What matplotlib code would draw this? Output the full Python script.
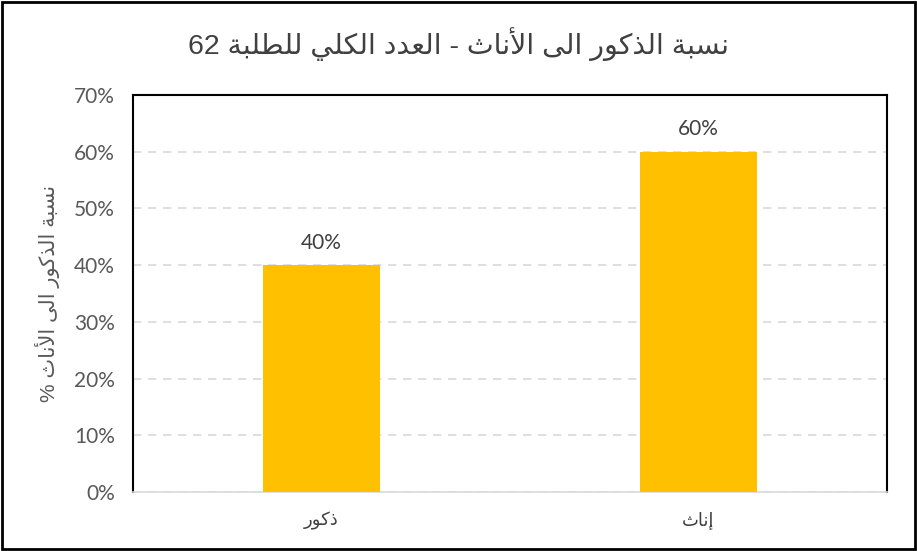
import matplotlib.pyplot as plt
import numpy as np

categories = ["ذكور", "إناث"]
values = [40, 60]
title_text = "نسبة الذكور الى الأناث - العدد الكلي للطلبة 62"
ylabel_text = "نسبة الذكور الى الأناث %"
yticks = [0, 10, 20, 30, 40, 50, 60, 70]

# matplotlib has no Arabic shaping, so pick the presentation forms by hand
# letter: (isolated, final, initial, medial) ; two forms = joins only to the right
FORMS = {
    "ا": (0xFE8D, 0xFE8E), "أ": (0xFE83, 0xFE84), "إ": (0xFE87, 0xFE88),
    "آ": (0xFE81, 0xFE82),
    "ب": (0xFE8F, 0xFE90, 0xFE91, 0xFE92), "ة": (0xFE93, 0xFE94),
    "ت": (0xFE95, 0xFE96, 0xFE97, 0xFE98), "ث": (0xFE99, 0xFE9A, 0xFE9B, 0xFE9C),
    "د": (0xFEA9, 0xFEAA), "ذ": (0xFEAB, 0xFEAC), "ر": (0xFEAD, 0xFEAE),
    "س": (0xFEB1, 0xFEB2, 0xFEB3, 0xFEB4), "ط": (0xFEC1, 0xFEC2, 0xFEC3, 0xFEC4),
    "ع": (0xFEC9, 0xFECA, 0xFECB, 0xFECC), "ك": (0xFED9, 0xFEDA, 0xFEDB, 0xFEDC),
    "ل": (0xFEDD, 0xFEDE, 0xFEDF, 0xFEE0), "ن": (0xFEE5, 0xFEE6, 0xFEE7, 0xFEE8),
    "و": (0xFEED, 0xFEEE), "ى": (0xFEEF, 0xFEF0),
    "ي": (0xFEF1, 0xFEF2, 0xFEF3, 0xFEF4),
}
LAM_ALEF = {"ا": (0xFEFB, 0xFEFC), "أ": (0xFEF7, 0xFEF8),
            "إ": (0xFEF9, 0xFEFA), "آ": (0xFEF5, 0xFEF6)}


def shape_word(word):
    # merge lam + alef into one unit
    units = []
    i = 0
    while i < len(word):
        if word[i] == "ل" and i + 1 < len(word) and word[i + 1] in LAM_ALEF:
            units.append(("LA", LAM_ALEF[word[i + 1]]))
            i += 2
        else:
            units.append((word[i], FORMS.get(word[i])))
            i += 1
    out = []
    for k, (ch, forms) in enumerate(units):
        if forms is None:
            out.append(ch)
            continue
        prev = units[k - 1][1] if k > 0 else None
        nxt = units[k + 1][1] if k + 1 < len(units) else None
        join_prev = prev is not None and len(prev) == 4
        join_next = len(forms) == 4 and nxt is not None
        if join_prev and join_next:
            cp = forms[3]
        elif join_prev:
            cp = forms[1]
        elif join_next:
            cp = forms[2]
        else:
            cp = forms[0]
        out.append(chr(cp))
    return "".join(out)


def ar(text):
    words = text.split(" ")
    vis = []
    for w in reversed(words):
        if any(c in FORMS for c in w):
            vis.append(shape_word(w)[::-1])
        else:
            vis.append(w)
    return " ".join(vis)


plt.rcParams["font.family"] = ["Liberation Sans", "DejaVu Sans"]
num_font = ["Lato", "DejaVu Sans"]

fig = plt.figure(figsize=(9.17, 5.51), dpi=100)
ax = fig.add_axes([0.145, 0.107, 0.822, 0.721])

x = np.arange(len(categories))
bars = ax.bar(x, values, width=0.31, color="#FFC000", zorder=3)
for b, v in zip(bars, values):
    ax.text(b.get_x() + b.get_width() / 2, v + 2.2, f"{v}%", ha="center",
            va="bottom", fontsize=15, color="#404040", family=num_font)

ax.set_xlim(-0.5, 1.5)
ax.set_ylim(0, 70)
ax.set_yticks(yticks)
ax.set_yticklabels([f"{t}%" for t in yticks], fontsize=15, color="#595959",
                   family=num_font)
ax.set_xticks(x)
ax.set_xticklabels([ar(c) for c in categories], fontsize=13, color="#404040")
ax.tick_params(axis="y", length=0, pad=13)
ax.tick_params(axis="x", length=0, pad=14)
ax.yaxis.grid(True, color="#D9D9D9", linestyle=(0, (5, 4)), linewidth=1.2, zorder=0)

for side in ["left", "top", "right"]:
    ax.spines[side].set_color("black")
    ax.spines[side].set_linewidth(1.5)
ax.spines["bottom"].set_color("#D9D9D9")
ax.spines["bottom"].set_linewidth(1.2)

ax.set_ylabel(ar(ylabel_text), fontsize=15, color="#595959", labelpad=10)
fig.text(0.5, 0.92, ar(title_text), ha="center", va="center", fontsize=20.5,
         color="#404040")

border = plt.Rectangle((0.002, 0.003), 0.996, 0.994, transform=fig.transFigure,
                       fill=False, edgecolor="black", linewidth=2)
fig.patches.append(border)

fig.savefig("out.png", dpi=100)
